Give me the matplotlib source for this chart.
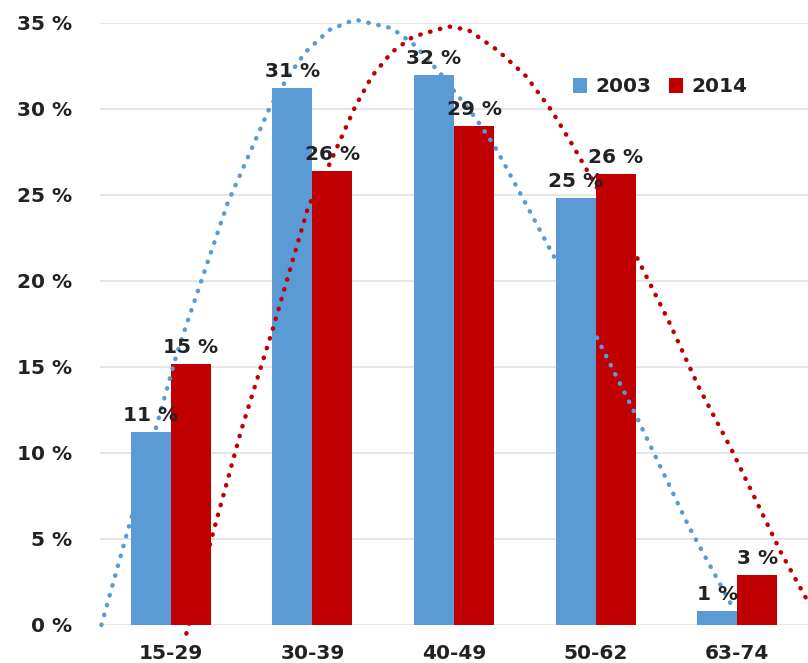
import matplotlib
matplotlib.use("Agg")
import matplotlib.pyplot as plt
import numpy as np

# age groups and share of each group (%)
groups = ["15-29", "30-39", "40-49", "50-62", "63-74"]
share_2003 = [11.2, 31.2, 32.0, 24.8, 0.8]
share_2014 = [15.2, 26.4, 29.0, 26.2, 2.9]

# dotted trend curves, x in category units
trend_2003_x = [-0.49, -0.28, -0.11, 0.04, 0.10, 0.40, 0.70, 0.83, 0.95, 1.12, 1.30,
                1.56, 1.71, 1.89, 2.15, 2.29, 2.50, 2.72, 3.01, 3.29, 3.66, 3.97]
trend_2003_y = [0.0, 6.2, 11.3, 15.7, 17.2, 24.5, 30.1, 31.9, 33.3, 34.6, 35.2,
                34.7, 33.8, 32.2, 29.5, 27.8, 24.6, 21.2, 16.7, 12.1, 5.7, 1.0]
trend_2014_x = [0.11, 0.29, 0.50, 0.72, 0.97, 1.11, 1.30, 1.42, 1.56, 1.71, 1.96,
                2.10, 2.31, 2.51, 2.69, 2.83, 2.97, 3.29, 3.52, 3.73, 3.96, 4.31, 4.49]
trend_2014_y = [-0.5, 5.1, 11.4, 17.2, 24.3, 26.6, 30.1, 31.9, 33.3, 34.2, 34.8,
                34.6, 33.4, 31.9, 29.9, 28.0, 26.0, 21.4, 17.6, 13.8, 10.2, 4.2, 1.5]

blue = "#5B9BD5"
red = "#C00000"
txt = "#222222"
fs = 14.5

plt.rcParams["font.family"] = "DejaVu Sans"
plt.rcParams["font.weight"] = "bold"

fig = plt.figure(figsize=(8.08, 6.63), dpi=100)
ax = fig.add_axes([100 / 808, 38 / 663, 708 / 808, 602 / 663])

x = np.arange(len(groups))
w = 0.283
b1 = ax.bar(x - w / 2, share_2003, w, color=blue, label="2003", zorder=2)
b2 = ax.bar(x + w / 2, share_2014, w, color=red, label="2014", zorder=2)

for bars, vals in [(b1, share_2003), (b2, share_2014)]:
    for r, v in zip(bars, vals):
        ax.annotate(f"{v:.0f} %", (r.get_x() + r.get_width() / 2, v),
                    xytext=(0, 5), textcoords="offset points",
                    ha="center", va="bottom", fontsize=fs, color=txt,
                    fontweight="bold", zorder=4)

dots = dict(linewidth=3.2, linestyle=(0, (0.1, 2.2)), dash_capstyle="round",
            clip_on=False, zorder=3)
ax.plot(trend_2003_x, trend_2003_y, color=blue, **dots)
ax.plot(trend_2014_x, trend_2014_y, color=red, **dots)

ax.set_xlim(-0.5, 4.5)
ax.set_ylim(0, 35)
ax.set_yticks(range(0, 36, 5))
ax.set_yticklabels([f"{t} %" for t in range(0, 36, 5)])
ax.set_xticks(x)
ax.set_xticklabels(groups)
ax.tick_params(axis="y", length=0, pad=20, labelsize=fs, labelcolor=txt)
ax.tick_params(axis="x", length=0, pad=14, labelsize=fs, labelcolor=txt)
ax.grid(axis="y", color="#E2E2E2", linewidth=1.2, zorder=0)
ax.set_axisbelow(True)
for s in ax.spines.values():
    s.set_visible(False)

fig.legend(handles=[b1, b2], labels=["2003", "2014"], ncol=2, frameon=False,
           loc="center left", bbox_to_anchor=(563 / 808, 1 - 87 / 663),
           fontsize=fs, handlelength=0.7, handleheight=0.7, handletextpad=0.4,
           columnspacing=0.9, borderpad=0, labelcolor=txt)

fig.savefig("out.png", dpi=100)
